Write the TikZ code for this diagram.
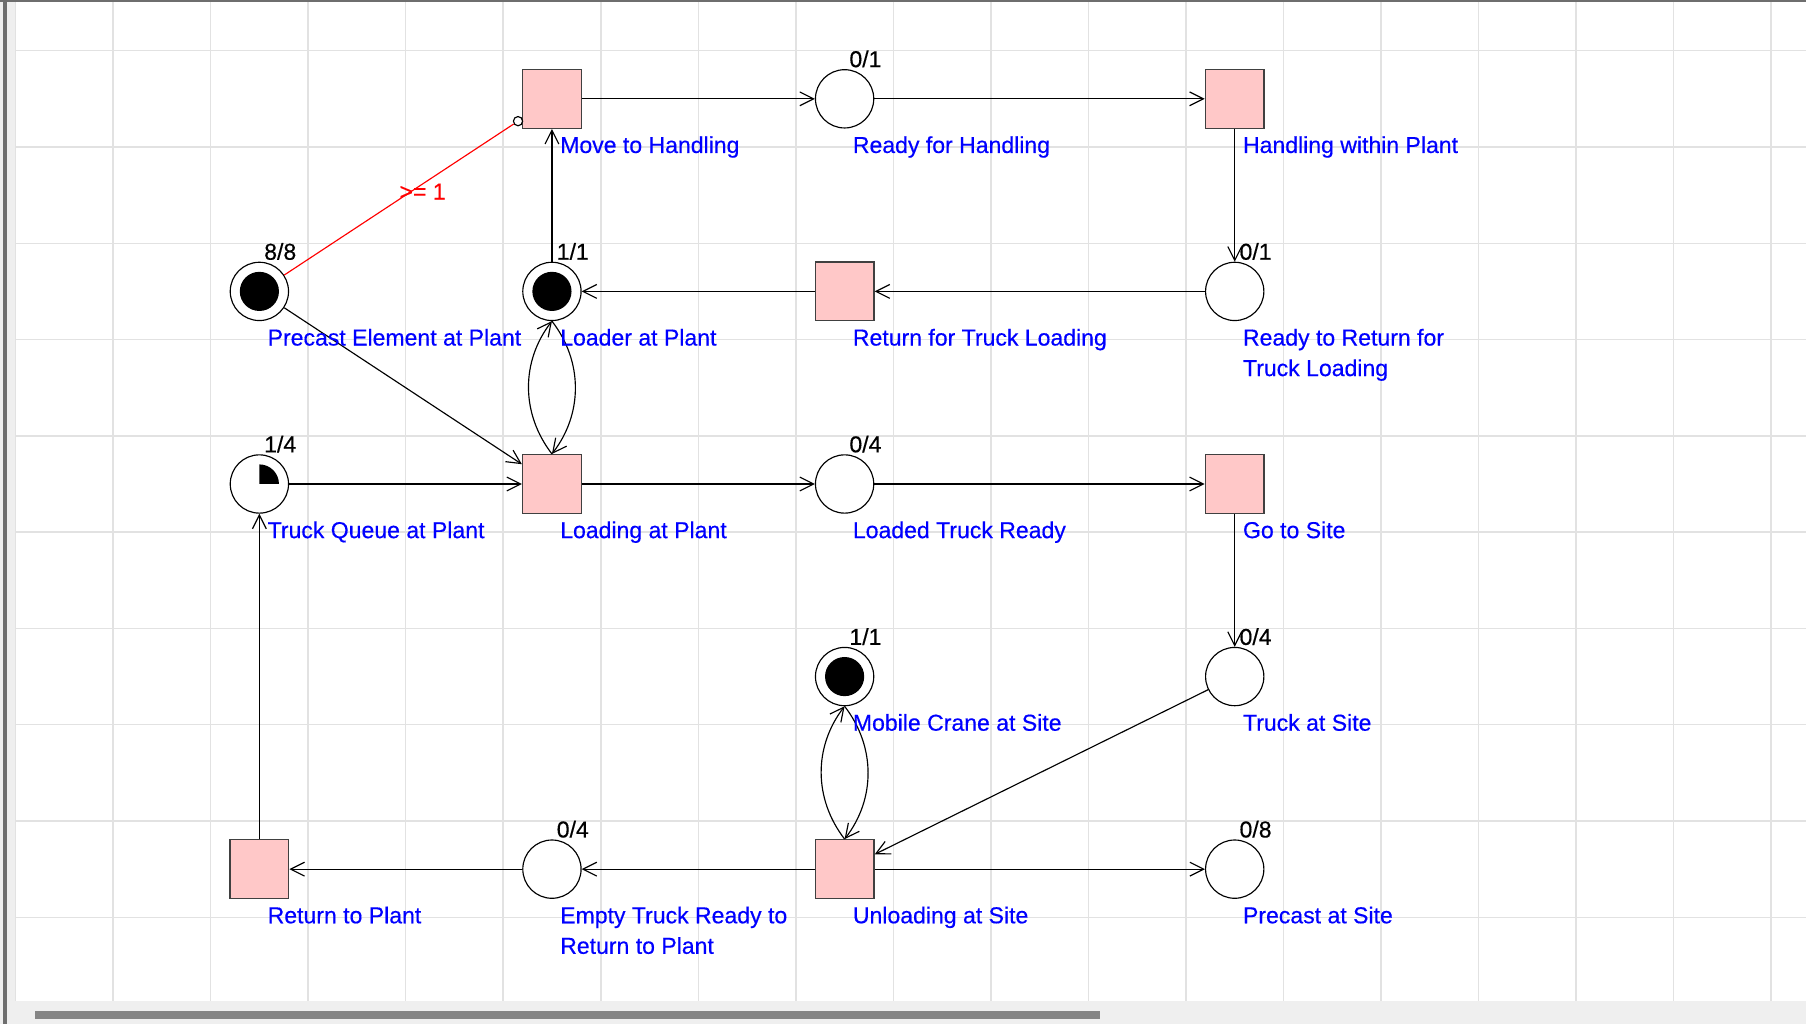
\documentclass[tikz,border=0pt]{standalone}
\usepackage{fontspec}
\setmainfont{Liberation Sans}
\newfontfamily\labfont[FakeBold=0.4]{Liberation Sans}
\usetikzlibrary{arrows.meta,calc}
\definecolor{gridc}{HTML}{E2E2E2}
\definecolor{pinkc}{HTML}{FFC8C8}
\definecolor{trborder}{HTML}{404040}
\definecolor{bandc}{HTML}{EFEFEF}
\definecolor{edgec}{HTML}{6E6E6E}
\definecolor{scrollc}{HTML}{858585}
\definecolor{labblue}{HTML}{0000FF}
\begin{document}
\begin{tikzpicture}[x=1pt,y=-1pt,
  place/.style={circle, draw=black, line width=1pt, minimum size=50.6pt, inner sep=0pt, fill=white},
  trans/.style={rectangle, draw=trborder, line width=1.2pt, fill=pinkc, minimum size=51pt, inner sep=0pt},
  pname/.style={anchor=base west, inner sep=0pt, text=labblue, font=\labfont\fontsize{20}{26.5}\selectfont},
  cnt/.style={anchor=base west, inner sep=0pt, text=black, font=\labfont\fontsize{20}{26.5}\selectfont},
  arc/.style={draw=black, line width=1pt, -{Straight Barb[length=12pt,width=12pt]}},
  token/.style={fill=black},
  inhibit/.style={circle, draw=black, line width=1pt, fill=white, minimum size=8pt, inner sep=0pt},
]
\useasboundingbox (0,0) rectangle (1568,889);
% background
\fill[white] (0,0) rectangle (1568,889);
\fill[bandc] (0,0) rectangle (13.5,889);
\fill[bandc] (0,869) rectangle (1568,889);
% grid
\foreach \k in {0,...,18} \draw[gridc, line width=1.3pt] ({13.5+84.68*\k},1.5) -- ({13.5+84.68*\k},869);
\foreach \k in {0,...,9} \draw[gridc, line width=1.3pt] (13.5,{44+83.6*\k}) -- (1568,{44+83.6*\k});
% borders
\fill[edgec] (2.3,0) rectangle (5.8,889);
\fill[edgec] (0,0) rectangle (1568,1.6);
\fill[scrollc] (30,877.5) rectangle (955,884.5);

% places
\node[place] (p1) at (733.3,85.8) {};
\node[place] (p2) at (1072,253) {};
\node[place] (p3) at (479.2,253) {};
\node[place] (p4) at (225.2,253) {};
\node[place] (p5) at (225.2,420.2) {};
\node[place] (p6) at (733.3,420.2) {};
\node[place] (p7) at (733.3,587.4) {};
\node[place] (p8) at (1072,587.4) {};
\node[place] (p9) at (479.2,754.6) {};
\node[place] (p10) at (1072,754.6) {};
% transitions
\node[trans] (t1) at (479.2,85.8) {};
\node[trans] (t2) at (1072,85.8) {};
\node[trans] (t3) at (733.3,253) {};
\node[trans] (t4) at (479.2,420.2) {};
\node[trans] (t5) at (1072,420.2) {};
\node[trans] (t6) at (733.3,754.6) {};
\node[trans] (t7) at (225.2,754.6) {};

% tokens
\fill[token] (p3.center) circle[radius=17pt];
\fill[token] (p4.center) circle[radius=17pt];
\fill[token] (p7.center) circle[radius=17pt];
\fill[token] (p5.center) -- +(0:17pt) arc[start angle=0, end angle=90, radius=17pt] -- cycle;

% arcs
\draw[arc] (t1) -- (p1);
\draw[arc] (p1) -- (t2);
\draw[arc] (t2) -- (p2);
\draw[arc] (p2) -- (t3);
\draw[arc] (t3) -- (p3);
\draw[arc] (p3) -- (t1);
\draw[arc] (p4) -- (t4);
\draw[arc] (p5) -- (t4);
\draw[arc] (t4) -- (p6);
\draw[arc] (p6) -- (t5);
\draw[arc] (t5) -- (p8);
\draw[arc] (p8) -- (t6);
\draw[arc] (t6) -- (p10);
\draw[arc] (t6) -- (p9);
\draw[arc] (p9) -- (t7);
\draw[arc] (t7) -- (p5);
\draw[arc] (t4.north) .. controls +(-27,-35) and +(-27,35) .. (p3.south);
\draw[arc] (p3.south) .. controls +(27,35) and +(27,-35) .. (t4.north);
\draw[arc] (t6.north) .. controls +(-27,-35) and +(-27,35) .. (p7.south);
\draw[arc] (p7.south) .. controls +(27,35) and +(27,-35) .. (t6.north);
% inhibitor-style red arc
\path (p4) -- (t1) coordinate[pos=1] (inhend);
\node[inhibit] (inhc) at ($(inhend)!4pt!(p4.center)$) {};
\draw[red, line width=1pt] (p4) -- (inhc)
  node[pos=0.5, anchor=base west, inner sep=0pt, text=red, font=\labfont\fontsize{20}{26.5}\selectfont] (inh) {>= 1};

% counters
\node[cnt] (c1) at ([shift={(4pt,27.5pt)}]p1.center) {0/1};
\node[cnt] (c2) at ([shift={(4pt,27.5pt)}]p2.center) {0/1};
\node[cnt] (c3) at ([shift={(4pt,27.5pt)}]p3.center) {1/1};
\node[cnt] (c4) at ([shift={(4pt,27.5pt)}]p4.center) {8/8};
\node[cnt] (c5) at ([shift={(4pt,27.5pt)}]p5.center) {1/4};
\node[cnt] (c6) at ([shift={(4pt,27.5pt)}]p6.center) {0/4};
\node[cnt] (c7) at ([shift={(4pt,27.5pt)}]p7.center) {1/1};
\node[cnt] (c8) at ([shift={(4pt,27.5pt)}]p8.center) {0/4};
\node[cnt] (c9) at ([shift={(4pt,27.5pt)}]p9.center) {0/4};
\node[cnt] (c10) at ([shift={(4pt,27.5pt)}]p10.center) {0/8};

% names
\node[pname] (n1) at ([shift={(7pt,-47pt)}]p1.center) {Ready for Handling};
\node[pname] (n2) at ([shift={(7pt,-47pt)}]p2.center) {\vtop{\hbox{Ready to Return for}\hbox{Truck Loading}}};
\node[pname] (n3) at ([shift={(7pt,-47pt)}]p3.center) {Loader at Plant};
\node[pname] (n4) at ([shift={(7pt,-47pt)}]p4.center) {Precast Element at Plant};
\node[pname] (n5) at ([shift={(7pt,-47pt)}]p5.center) {Truck Queue at Plant};
\node[pname] (n6) at ([shift={(7pt,-47pt)}]p6.center) {Loaded Truck Ready};
\node[pname] (n7) at ([shift={(7pt,-47pt)}]p7.center) {Mobile Crane at Site};
\node[pname] (n8) at ([shift={(7pt,-47pt)}]p8.center) {Truck at Site};
\node[pname] (n9) at ([shift={(7pt,-47pt)}]p9.center) {\vtop{\hbox{Empty Truck Ready to}\hbox{Return to Plant}}};
\node[pname] (n10) at ([shift={(7pt,-47pt)}]p10.center) {Precast at Site};
\node[pname] (m1) at ([shift={(7pt,-47pt)}]t1.center) {Move to Handling};
\node[pname] (m2) at ([shift={(7pt,-47pt)}]t2.center) {Handling within Plant};
\node[pname] (m3) at ([shift={(7pt,-47pt)}]t3.center) {Return for Truck Loading};
\node[pname] (m4) at ([shift={(7pt,-47pt)}]t4.center) {Loading at Plant};
\node[pname] (m5) at ([shift={(7pt,-47pt)}]t5.center) {Go to Site};
\node[pname] (m6) at ([shift={(7pt,-47pt)}]t6.center) {Unloading at Site};
\node[pname] (m7) at ([shift={(7pt,-47pt)}]t7.center) {Return to Plant};
\end{tikzpicture}
\end{document}
